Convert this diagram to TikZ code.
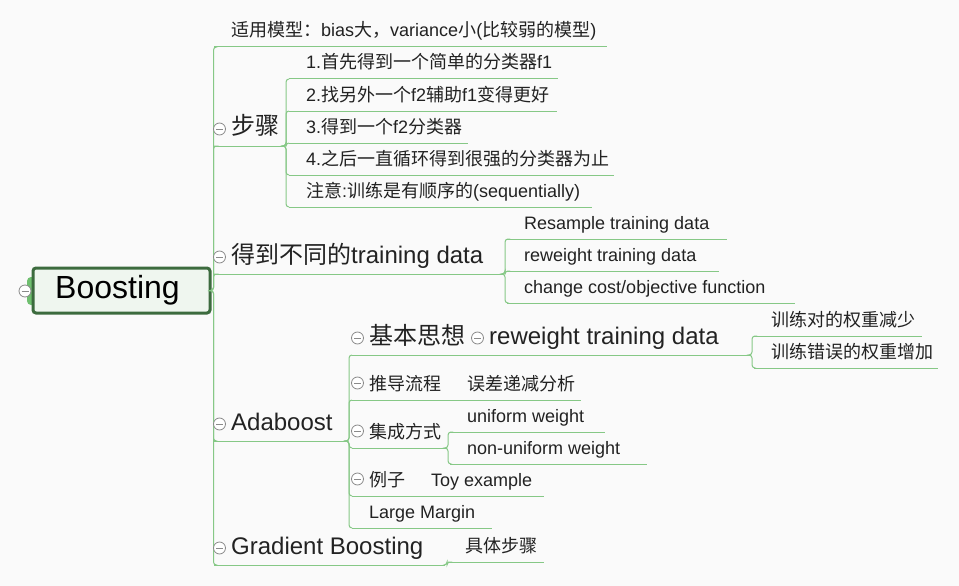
\documentclass[tikz,border=0pt]{standalone}
\usepackage{fontspec}
\setmainfont{Liberation Sans}
\newfontfamily\cjkfont{Noto Sans CJK SC}
\newfontfamily\latinfont{Liberation Sans}
% switch to the CJK font for Han characters and full-width punctuation
\newXeTeXintercharclass\hanclass
\count255="4E00
\loop\XeTeXcharclass\count255=\hanclass
  \ifnum\count255<"9FFF \advance\count255 by 1 \repeat
\count255="FF00
\loop\XeTeXcharclass\count255=\hanclass
  \ifnum\count255<"FF60 \advance\count255 by 1 \repeat
\XeTeXinterchartoks 0 \hanclass = {\cjkfont}
\XeTeXinterchartoks 4095 \hanclass = {\cjkfont}
\XeTeXinterchartoks \hanclass 0 = {\latinfont}
\XeTeXinterchartokenstate=1
\usepackage{xcolor}
\definecolor{leafgreen}{HTML}{86C886}
\definecolor{rootgreen}{HTML}{3C6B3E}
\definecolor{rootfill}{HTML}{EFF6EF}
\definecolor{tabgreen}{HTML}{6FBF6F}
\definecolor{paper}{HTML}{FAFAFA}
\definecolor{ink}{HTML}{222222}
\definecolor{foldgray}{HTML}{8A8A8A}
\usepackage{tikz}
\usetikzlibrary{calc}
% name, underline start, underline end, underline y, style, text
\newcommand{\topic}[6]{%
  \coordinate (#1-a) at (#2,#4);
  \coordinate (#1-b) at (#3,#4);
  \draw[branch] (#1-a) -- (#1-b);
  \node[#5] (#1) at (#2+17,#4-10) {#6};}
\newcommand{\foldmark}[1]{\node[fold] (#1-f) at ($(#1-a)+(5.5,-17)$) {};}

\begin{document}
\begin{tikzpicture}[x=1pt, y=-1pt,
  branch/.style={draw=leafgreen, line width=1pt},
  elbow/.style={branch, rounded corners=3pt},
  big/.style={anchor=base west, inner sep=0pt, yshift=1pt, text=ink, font=\fontsize{24}{28}\selectfont},
  small/.style={anchor=base west, inner sep=0pt, text=ink, font=\fontsize{18}{22}\selectfont},
  fold/.style={circle, draw=foldgray, fill=white, line width=0.8pt, minimum size=12pt, inner sep=0pt,
    path picture={\draw[foldgray, line width=0.8pt] ([xshift=-3.5pt]path picture bounding box.center) -- ([xshift=3.5pt]path picture bounding box.center);}},
  rootbox/.style={draw=rootgreen, line width=3pt, fill=rootfill, rounded corners=3pt,
    minimum width=177pt, minimum height=45pt, text=black, font=\fontsize{32}{36}\selectfont}]
  \fill[paper] (0,0) rectangle (959,586);

  % --- Root ---
  \fill[tabgreen, rounded corners=4pt] (27,277) rectangle (38,305);
  \node[rootbox] (root) at (121.5,290.5) {Boosting\hspace*{8pt}};
  \node[fold] (root-f) at (25,291) {};

  % --- First level ---
  \topic{fit}{214}{607}{47}{small}{适用模型：bias大，variance小(比较弱的模型)}
  \topic{steps}{214}{284}{146}{big}{步骤}
  \topic{data}{214}{503}{274}{big}{得到不同的training data}
  \topic{ada}{214}{347}{441}{big}{Adaboost}
  \topic{gb}{214}{445}{565}{big}{Gradient Boosting}
  \foreach \c in {fit,steps,data,ada,gb}
    \draw[elbow] (root.east) -- ++(2,0) |- (\c-a);

  % --- Steps ---
  \topic{s1}{289}{558}{79}{small}{1.首先得到一个简单的分类器f1}
  \topic{s2}{289}{557}{111}{small}{2.找另外一个f2辅助f1变得更好}
  \topic{s3}{289}{468}{143}{small}{3.得到一个f2分类器}
  \topic{s4}{289}{614}{175}{small}{4.之后一直循环得到很强的分类器为止}
  \topic{s5}{289}{592}{207}{small}{注意:训练是有顺序的(sequentially)}
  \foreach \c in {s1,s2,s3,s4,s5}
    \draw[elbow] (steps-b) -- ++(2,0) |- (\c-a);

  % --- Different training data ---
  \topic{d1}{507}{727}{239}{small}{Resample training data}
  \topic{d2}{507}{719}{271}{small}{reweight training data}
  \topic{d3}{507}{795}{303}{small}{change cost/objective function}
  \foreach \c in {d1,d2,d3}
    \draw[elbow] (data-b) -- ++(2,0) |- (\c-a);

  % --- Adaboost ---
  \topic{idea}{352}{470}{355}{big}{基本思想}
  \topic{deriv}{352}{448}{400}{small}{推导流程}
  \topic{ens}{352}{446}{448}{small}{集成方式}
  \topic{ex}{352}{412}{496}{small}{例子}
  \topic{lm}{352}{492}{528}{small}{Large Margin}
  \foreach \c in {idea,deriv,ens,ex,lm}
    \draw[elbow] (ada-b) -- ++(2,0) |- (\c-a);

  \topic{rw}{472}{750}{355}{big}{reweight training data}
  \draw[branch] (idea-b) -- (rw-a);
  \topic{rw1}{754}{922}{336}{small}{训练对的权重减少}
  \topic{rw2}{754}{938}{368}{small}{训练错误的权重增加}
  \foreach \c in {rw1,rw2}
    \draw[elbow] (rw-b) -- ++(2,0) |- (\c-a);

  \topic{err}{450}{581}{400}{small}{误差递减分析}
  \draw[branch] (deriv-b) -- (err-a);
  \topic{uni}{450}{605}{432}{small}{uniform weight}
  \topic{nonuni}{450}{647}{464}{small}{non-uniform weight}
  \foreach \c in {uni,nonuni}
    \draw[elbow] (ens-b) -- ++(2,0) |- (\c-a);
  \topic{toy}{414}{544}{496}{small}{Toy example}
  \draw[branch] (ex-b) -- (toy-a);

  % --- Gradient Boosting ---
  \topic{gbs}{448}{544}{562}{small}{具体步骤}
  \draw[elbow] (gb-b) -- ++(2,0) |- (gbs-a);

  % Fold marks
  \foreach \c in {steps,data,ada,gb,idea,rw,deriv,ens,ex}
    {\foldmark{\c}}
\end{tikzpicture}
\end{document}
